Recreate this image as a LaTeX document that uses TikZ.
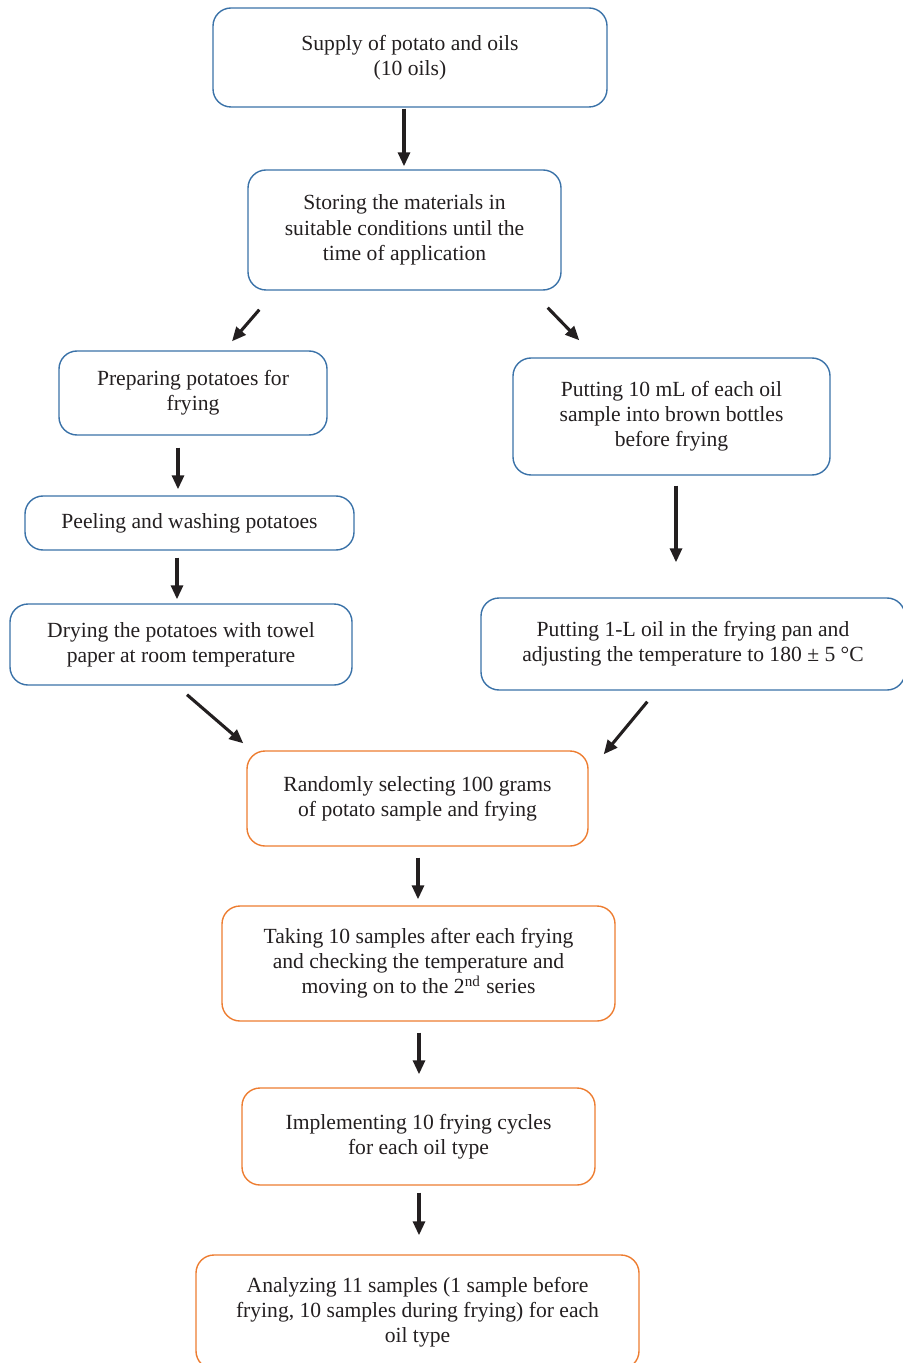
\documentclass[tikz,border=0pt]{standalone}
\usepackage{fontspec}
\setmainfont{Liberation Serif}
\usetikzlibrary{arrows.meta}
\definecolor{bblue}{HTML}{3A72A8}
\definecolor{borange}{HTML}{ED7D31}
\definecolor{ink}{HTML}{231F20}
\tikzset{
  box/.style={draw, rounded corners=9pt, line width=0.7pt, align=center, inner sep=0pt,
    text=ink, font=\fontsize{10.8}{12.6}\selectfont},
  bluebox/.style={box, draw=bblue},
  orangebox/.style={box, draw=borange},
  arr/.style={draw=ink, line width=1.55pt, -{Triangle[length=7pt,width=6pt]}}
}
\begin{document}
\begin{tikzpicture}[x=0.5pt,y=-0.5pt]
\useasboundingbox (0,0) rectangle (903,1363);
\clip (0,0) rectangle (903,1363);
\node[bluebox, minimum width=197pt, minimum height=49.5pt] (supply) at (410,57.5) {Supply of potato and oils\\(10 oils)};
\node[bluebox, minimum width=156.5pt, minimum height=60pt] (store) at (404.5,230) {Storing the materials in\\suitable conditions until the\\time of application};
\node[bluebox, minimum width=134pt, minimum height=42pt] (prep) at (193,393) {Preparing potatoes for\\frying};
\node[bluebox, minimum width=158.5pt, minimum height=58.5pt] (put10) at (671.5,416.5) {Putting 10 mL of each oil\\sample into brown bottles\\before frying};
\node[bluebox, minimum width=164.5pt, minimum height=27pt] (peel) at (189.5,523) {Peeling and washing potatoes};
\node[bluebox, minimum width=171pt, minimum height=40.5pt] (dry) at (181,644.5) {Drying the potatoes with towel\\paper at room temperature};
\node[bluebox, minimum width=212pt, minimum height=46pt] (put1L) at (693,644) {Putting 1-L oil in the frying pan and\\adjusting the temperature to 180 ± 5 °C};
\node[orangebox, minimum width=170.5pt, minimum height=47.5pt] (rand) at (417.5,798.5) {Randomly selecting 100 grams\\of potato sample and frying};
\node[orangebox, minimum width=196.5pt, minimum height=57.5pt] (take) at (418.5,963.5) {Taking 10 samples after each frying\\and checking the temperature and\\moving on to the 2\textsuperscript{nd} series};
\node[orangebox, minimum width=176.5pt, minimum height=48.5pt] (impl) at (418.5,1136.5) {Implementing 10 frying cycles\\for each oil type};
\node[orangebox, minimum width=221.5pt, minimum height=57pt] (anal) at (417.5,1312) {Analyzing 11 samples (1 sample before\\frying, 10 samples during frying) for each\\oil type};

\draw[arr] ([shift={(-6,1)}]supply.south) -- ([shift={(-0.5,-3)}]store.north);
\draw[arr] ([shift={(12,19)}]store.south west) -- ([shift={(39,-9)}]prep.north);
\draw[arr] ([shift={(-14,17)}]store.south east) -- ([shift={(67,-17)}]put10.north west);
\draw[arr] ([shift={(-15,12)}]prep.south) -- ([shift={(-11.5,-6)}]peel.north);
\draw[arr] ([shift={(-12.5,7)}]peel.south) -- ([shift={(-4,-4)}]dry.north);
\draw[arr] ([shift={(4.5,10)}]put10.south) -- ([shift={(-17,-35)}]put1L.north);
\draw[arr] ([shift={(6,9)}]dry.south) -- ([shift={(-3,-7)}]rand.north west);
\draw[arr] ([shift={(167,11)}]put1L.south west) -- ([shift={(15,4)}]rand.north east);
\draw[arr] ([shift={(0.5,11)}]rand.south) -- ([shift={(-0.5,-6)}]take.north);
\draw[arr] ([shift={(0.5,11)}]take.south) -- ([shift={(0.5,-13)}]impl.north);
\draw[arr] ([shift={(0.5,7)}]impl.south) -- ([shift={(1.5,-19)}]anal.north);
\end{tikzpicture}
\end{document}
